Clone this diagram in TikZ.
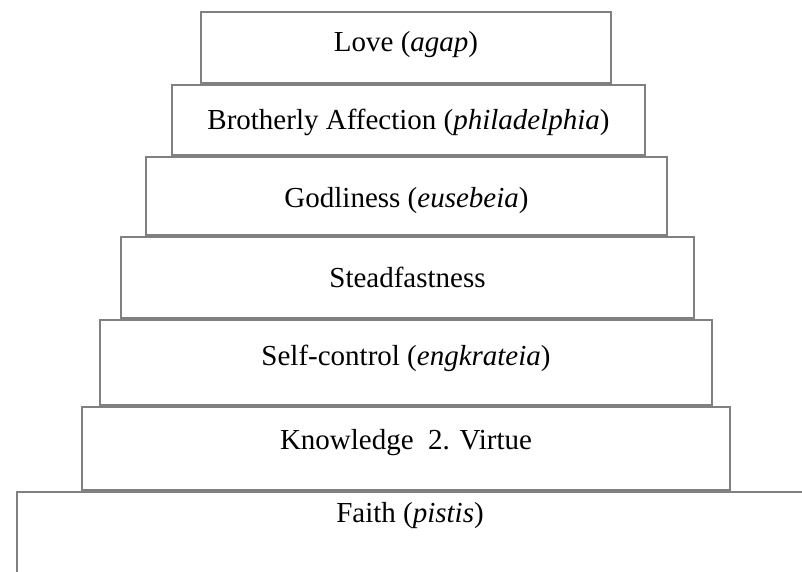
\documentclass[tikz,border=0pt]{standalone}
\usepackage{fontspec}
\setmainfont{Liberation Serif}
\begin{document}
\begin{tikzpicture}[
        x = 1pt, y = -1pt,
        font = \fontsize{29}{34}\selectfont,
        tier/.style = {draw=gray, line width=1.6pt, inner sep=0pt},
        rim/.style = {draw=gray, line width=1.6pt}
    ]
    \useasboundingbox (0,0) rectangle (802,571);
    %--- Draw Tiers ---%
        \node (love) [tier, minimum width=410pt, minimum height=71pt] at (406,47.5) {\raisebox{2.5pt}[\height][\depth]{Love (\textit{agap})}};
        \node (broth) [tier, minimum width=473pt, minimum height=70pt] at (408.5,120) {\raisebox{-2pt}[\height][\depth]{Brotherly Affection (\textit{philadelphia})}};
        \node (godl) [tier, minimum width=521pt, minimum height=78pt] at (406.5,196) {\raisebox{-4.3pt}[\height][\depth]{Godliness (\textit{eusebeia})}};
        \node (stead) [tier, minimum width=573pt, minimum height=81pt] at (407.5,277.5) {Steadfastness};
        \node (self) [tier, minimum width=612pt, minimum height=85pt] at (406,362.5) {\raisebox{4.2pt}[\height][\depth]{Self-control (\textit{engkrateia})}};
        \node (know) [tier, minimum width=648pt, minimum height=83pt] at (406,448.5) {\raisebox{6pt}[\height][\depth]{Knowledge\ \ 2. Virtue}};
    %--- Draw Base ---%
        \coordinate (fr) at (803,492);
        \coordinate (fl) at (17,492);
        \coordinate (fb) at (17,572);
        \node (faith) at (410,515.3) {Faith (\textit{pistis})};
        \draw[rim] (fr) -- (fl) -- (fb);
\end{tikzpicture}
\end{document}
